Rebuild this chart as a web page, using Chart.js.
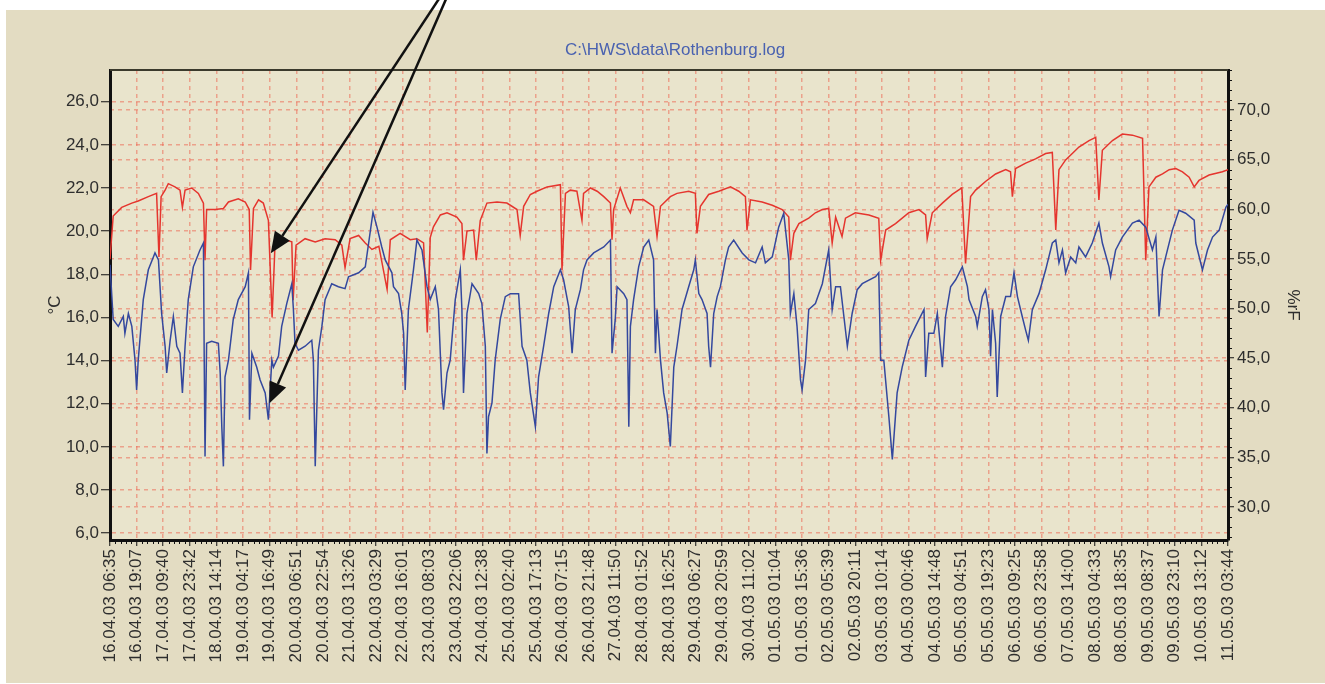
<!DOCTYPE html>
<html><head><meta charset="utf-8">
<script src="https://cdn.jsdelivr.net/npm/chart.js@4.4.1/dist/chart.umd.min.js"></script>
<style>html,body{margin:0;padding:0;background:#fff;overflow:hidden}</style>
</head><body>
<canvas id="c" width="1325" height="684"></canvas>
<script>
const timeLabels = ["16.04.03 06:35","16.04.03 19:07","17.04.03 09:40","17.04.03 23:42","18.04.03 14:14","19.04.03 04:17","19.04.03 16:49","20.04.03 06:51","20.04.03 22:54","21.04.03 13:26","22.04.03 03:29","22.04.03 16:01","23.04.03 08:03","23.04.03 22:06","24.04.03 12:38","25.04.03 02:40","25.04.03 17:13","26.04.03 07:15","26.04.03 21:48","27.04.03 11:50","28.04.03 01:52","28.04.03 16:25","29.04.03 06:27","29.04.03 20:59","30.04.03 11:02","01.05.03 01:04","01.05.03 15:36","02.05.03 05:39","02.05.03 20:11","03.05.03 10:14","04.05.03 00:46","04.05.03 14:48","05.05.03 04:51","05.05.03 19:23","06.05.03 09:25","06.05.03 23:58","07.05.03 14:00","08.05.03 04:33","08.05.03 18:35","09.05.03 08:37","09.05.03 23:10","10.05.03 13:12","11.05.03 03:44"];
const leftTicks = [6,8,10,12,14,16,18,20,22,24,26];
const rightTicks = [30,35,40,45,50,55,60,65,70];
const chartTitle = "C:\\HWS\\data\\Rothenburg.log";

// red series (°C), x in label-index units
const tempTime = [0,0.12,0.44,0.82,1.06,1.44,1.75,1.84,1.92,2.07,2.19,2.44,2.63,2.72,2.82,3.07,3.32,3.51,3.57,3.63,3.95,4.26,4.45,4.82,5.08,5.23,5.28,5.39,5.58,5.76,5.95,6.09,6.2,6.58,6.83,6.88,6.99,7.33,7.71,8.08,8.46,8.71,8.83,9.02,9.34,9.59,9.84,10.1,10.41,10.53,10.9,11.28,11.53,11.78,11.92,12.03,12.15,12.41,12.66,13.03,13.22,13.28,13.41,13.66,13.76,13.91,14.16,14.54,14.91,15.29,15.41,15.54,15.79,16.04,16.42,16.92,16.98,17.11,17.29,17.54,17.73,17.79,18.05,18.3,18.55,18.8,18.86,18.92,19.17,19.42,19.55,19.67,20.05,20.42,20.55,20.68,21.05,21.3,21.74,21.99,22.05,22.18,22.49,22.87,23.31,23.62,23.87,23.93,24.06,24.5,24.88,25.25,25.5,25.56,25.69,25.88,26.25,26.5,26.76,27.0,27.13,27.26,27.5,27.63,28.0,28.51,28.88,28.95,29.14,29.51,30.01,30.39,30.64,30.7,30.89,31.27,31.64,32.0,32.14,32.33,32.52,32.89,33.27,33.65,33.83,33.9,34.02,34.4,34.77,35.15,35.4,35.53,35.65,35.9,36.4,36.78,37.03,37.15,37.28,37.66,38.03,38.41,38.79,38.91,39.03,39.29,39.54,39.79,40.04,40.29,40.54,40.73,40.91,41.29,41.79,42];
const tempValues = [18.7,20.7,21.1,21.3,21.4,21.6,21.75,18.8,21.6,21.9,22.2,22.05,21.9,21.1,21.9,22.0,21.75,21.3,18.65,21.0,21.0,21.05,21.35,21.5,21.35,21.0,18.2,21.05,21.45,21.3,20.5,16.0,19.4,19.6,19.5,16.8,19.35,19.65,19.5,19.65,19.6,19.35,18.3,19.65,19.8,19.45,19.15,19.3,17.3,19.6,19.9,19.6,19.65,19.45,15.3,19.7,20.2,20.75,20.85,20.65,20.35,18.65,20.0,20.05,18.65,20.5,21.3,21.35,21.3,21.0,19.8,21.15,21.7,21.85,22.05,22.15,18.2,21.75,21.9,21.85,20.5,21.75,22.0,21.85,21.6,21.3,19.6,21.0,22.0,21.15,20.85,21.45,21.45,21.15,19.75,21.15,21.6,21.75,21.85,21.75,19.9,21.15,21.7,21.85,22.05,21.85,21.6,20.05,21.45,21.35,21.2,21.0,20.65,18.65,19.9,20.35,20.6,20.85,21.0,21.05,19.45,20.65,19.75,20.6,20.85,20.75,20.6,18.65,20.05,20.35,20.85,21.0,20.75,19.65,20.85,21.3,21.7,22.0,18.5,21.6,21.9,22.3,22.65,22.85,22.75,21.6,22.9,23.15,23.35,23.6,23.65,20.05,22.85,23.3,23.9,24.2,24.35,21.45,23.75,24.2,24.5,24.45,24.3,18.65,22.05,22.5,22.65,22.85,22.9,22.75,22.5,22.05,22.35,22.6,22.75,22.85];

// blue series (%rF), x in label-index units
const humTime = [0,0.12,0.31,0.5,0.56,0.69,0.82,0.94,1.0,1.06,1.25,1.44,1.63,1.69,1.82,1.94,2.07,2.13,2.26,2.38,2.51,2.63,2.72,2.82,2.94,3.13,3.38,3.51,3.54,3.57,3.63,3.82,4.07,4.14,4.2,4.26,4.32,4.45,4.63,4.82,5.08,5.2,5.24,5.33,5.51,5.64,5.83,5.95,6.08,6.14,6.33,6.45,6.64,6.83,6.89,6.95,7.08,7.33,7.58,7.64,7.71,7.83,7.96,8.08,8.33,8.58,8.83,8.96,9.34,9.59,9.88,10.03,10.21,10.34,10.59,10.65,10.84,10.96,11.03,11.09,11.21,11.4,11.53,11.72,11.91,12.03,12.22,12.34,12.47,12.53,12.66,12.78,12.97,13.16,13.22,13.28,13.41,13.6,13.85,13.97,14.1,14.16,14.22,14.35,14.47,14.66,14.85,15.04,15.35,15.48,15.66,15.79,15.98,16.1,16.29,16.48,16.67,16.92,17.04,17.23,17.36,17.48,17.67,17.79,17.92,18.17,18.55,18.8,18.86,18.98,19.05,19.3,19.42,19.49,19.55,19.67,19.86,20.05,20.24,20.42,20.49,20.55,20.68,20.8,20.93,21.05,21.18,21.3,21.49,21.74,21.93,21.99,22.12,22.24,22.43,22.49,22.56,22.68,22.81,22.93,23.12,23.24,23.43,23.75,24.0,24.25,24.5,24.62,24.88,25.12,25.31,25.5,25.56,25.69,25.81,25.94,26.0,26.13,26.25,26.5,26.76,27.0,27.13,27.26,27.44,27.57,27.7,27.88,28.07,28.26,28.76,28.88,28.95,29.07,29.26,29.39,29.57,29.76,30.01,30.26,30.58,30.64,30.76,30.95,31.08,31.27,31.39,31.58,31.77,32.02,32.21,32.27,32.52,32.58,32.77,32.89,33.02,33.08,33.15,33.27,33.33,33.46,33.65,33.83,33.96,34.09,34.27,34.4,34.5,34.65,34.9,35.15,35.4,35.53,35.65,35.78,35.9,36.09,36.28,36.4,36.65,36.9,37.15,37.28,37.53,37.59,37.78,38.03,38.41,38.66,38.91,39.16,39.29,39.41,39.54,39.66,39.91,40.16,40.41,40.73,40.79,41.04,41.23,41.42,41.67,41.92,42];
const humValues = [54.4,48.9,48.2,49.2,47.5,49.5,48.2,44.8,41.8,44.8,50.9,53.9,55.2,55.6,54.9,49.5,46.2,43.5,46.8,49.2,46.2,45.5,41.5,46.2,50.9,54.2,55.9,56.6,44.8,35.1,46.5,46.7,46.5,43.5,38.1,34.1,43.1,44.8,48.9,50.9,52.2,53.6,38.8,45.5,44.1,42.8,41.5,38.8,44.8,44.1,45.2,48.2,50.5,52.5,49.9,46.5,45.8,46.2,46.8,44.8,34.1,45.8,48.2,50.9,52.5,52.2,52.0,53.2,53.6,54.2,59.7,58.2,56.2,54.9,53.6,52.2,51.5,49.5,47.5,41.8,49.9,53.9,56.9,55.9,52.2,50.9,52.2,49.9,41.5,39.8,43.5,44.8,50.9,53.9,49.9,41.5,49.5,52.5,51.5,50.5,46.2,35.4,39.1,40.5,44.8,48.9,51.2,51.5,51.5,46.2,44.8,41.5,38.1,43.1,46.2,49.5,52.2,53.9,52.9,50.2,45.5,49.9,51.9,53.9,54.9,55.6,56.2,56.9,45.5,48.9,52.2,51.5,50.9,38.1,48.2,50.9,54.2,56.2,56.9,54.9,45.5,49.9,44.8,41.5,39.5,36.1,44.1,46.2,49.9,52.2,53.9,54.9,51.5,50.9,49.5,46.2,44.1,49.5,51.2,52.2,54.9,56.2,56.9,55.6,54.9,54.6,56.2,54.6,55.2,58.2,59.6,54.9,49.5,51.5,48.2,42.8,41.8,44.8,49.9,50.5,52.5,55.9,49.9,52.2,52.2,49.2,46.2,49.5,51.9,52.5,53.2,53.6,44.8,44.8,39.1,34.8,41.5,44.1,46.8,48.2,49.9,43.1,47.5,47.5,49.5,44.1,49.2,52.2,52.9,54.2,52.2,50.9,49.2,48.2,51.2,51.9,49.9,45.2,49.9,46.5,41.1,49.2,51.2,51.2,53.6,51.2,49.2,47.8,46.8,49.9,51.5,53.9,56.6,56.9,54.6,55.9,53.6,55.2,54.6,56.2,55.2,56.6,58.6,56.6,54.2,53.2,55.9,57.2,58.6,58.9,58.2,55.9,57.2,49.2,53.9,55.2,57.9,59.9,59.6,58.9,56.6,53.9,55.9,57.2,57.9,60.2,60.5];

// annotation arrows (start -> tip), in x-index / °C units
const arrowStarts = [{x:12.59, y:31.2},{x:12.78, y:31.2}];
const arrowTips = [{x:6.04, y:18.97},{x:5.99, y:12.02}];

const FONT = "'Liberation Sans', Arial, sans-serif";
const gridColor = 'rgba(236,105,85,0.55)';
const fmt = v => Number(v).toFixed(1).replace('.', ',');

const decor = {
  id: 'decor',
  beforeDraw(chart) {
    const {ctx, chartArea: a} = chart;
    ctx.save();
    ctx.fillStyle = '#ffffff';
    ctx.fillRect(0, 0, chart.width, chart.height);
    ctx.fillStyle = '#e3dcc2';
    ctx.fillRect(6, 10, chart.width - 6, chart.height - 11);
    ctx.fillStyle = '#e9e4cc';
    ctx.fillRect(a.left, a.top, a.right - a.left, a.bottom - a.top);
    ctx.restore();
  },
  afterDraw(chart) {
    const {ctx, chartArea: a, scales} = chart;
    ctx.save();
    // top frame line
    ctx.strokeStyle = '#3b3a2c';
    ctx.lineWidth = 2;
    ctx.beginPath(); ctx.moveTo(a.left, a.top); ctx.lineTo(a.right, a.top); ctx.stroke();
    // minor ticks
    ctx.strokeStyle = '#111';
    ctx.lineWidth = 1;
    const y1 = scales.y1;
    ctx.beginPath();
    for (let v = Math.ceil(y1.min); v <= Math.floor(y1.max); v++) {
      if (v % 5 === 0) continue;
      const py = Math.round(y1.getPixelForValue(v)) + 0.5;
      ctx.moveTo(a.right, py); ctx.lineTo(a.right + 4, py);
    }
    const xs = scales.x;
    for (let i = 0; i < timeLabels.length - 1; i++) {
      for (let k = 1; k < 5; k++) {
        const px = Math.round(xs.getPixelForValue(i + k / 5)) + 0.5;
        ctx.moveTo(px, a.bottom); ctx.lineTo(px, a.bottom + 4);
      }
    }
    ctx.stroke();
    // arrows
    const ys = scales.y;
    ctx.strokeStyle = '#111';
    ctx.fillStyle = '#111';
    ctx.lineWidth = 2.5;
    arrowStarts.forEach((s, i) => {
      const t = arrowTips[i];
      const x0 = xs.getPixelForValue(s.x), y0 = ys.getPixelForValue(s.y);
      const x1 = xs.getPixelForValue(t.x), y1p = ys.getPixelForValue(t.y);
      const ang = Math.atan2(y1p - y0, x1 - x0);
      const hl = 21, hw = 9;
      const bx = x1 - hl * Math.cos(ang), by = y1p - hl * Math.sin(ang);
      ctx.beginPath(); ctx.moveTo(x0, y0); ctx.lineTo(bx, by); ctx.stroke();
      ctx.beginPath();
      ctx.moveTo(x1, y1p);
      ctx.lineTo(bx + hw * Math.sin(ang), by - hw * Math.cos(ang));
      ctx.lineTo(bx - hw * Math.sin(ang), by + hw * Math.cos(ang));
      ctx.closePath(); ctx.fill();
    });
    ctx.restore();
  }
};

new Chart(document.getElementById('c'), {
  type: 'line',
  data: {
    datasets: [
      { label: '%rF', yAxisID: 'y1',
        data: humTime.map((x, i) => ({x, y: humValues[i]})),
        borderColor: '#34489e', borderWidth: 1.5, pointRadius: 0, tension: 0, fill: false },
      { label: '°C', yAxisID: 'y',
        data: tempTime.map((x, i) => ({x, y: tempValues[i]})),
        borderColor: '#e5352e', borderWidth: 1.5, pointRadius: 0, tension: 0, fill: false }
    ]
  },
  options: {
    responsive: false, animation: false, devicePixelRatio: 1, events: [],
    layout: { padding: { left: 40, right: 15, top: 10, bottom: 4 } },
    plugins: {
      legend: { display: false }, tooltip: { enabled: false },
      title: { display: true, text: chartTitle, color: '#4a62b0',
        font: { family: FONT, size: 17, weight: 'normal' }, padding: { top: 30, bottom: 9.6 } }
    },
    scales: {
      x: {
        type: 'linear', min: 0, max: timeLabels.length - 1, bounds: 'data',
        afterBuildTicks: s => { s.ticks = timeLabels.map((_, i) => ({value: i})); },
        afterFit: s => { s.height = 140; },
        ticks: { autoSkip: false, maxRotation: 90, minRotation: 90, padding: 3, color: '#2e2e2e',
          font: { family: FONT, size: 17 }, callback: (v, i) => timeLabels[i] },
        grid: { color: gridColor, lineWidth: 1.5, tickLength: 6, tickColor: '#111', tickWidth: 1, tickBorderDash: [] },
        border: { display: true, color: '#111', width: 3, dash: [4, 4] }
      },
      y: {
        type: 'linear', position: 'left', min: 5.68, max: 27.47, bounds: 'data',
        afterBuildTicks: s => { s.ticks = leftTicks.map(v => ({value: v})); },
        afterFit: s => { s.width = 70; },
        ticks: { padding: 2, color: '#2e2e2e', font: { family: FONT, size: 17 }, callback: v => fmt(v) },
        grid: { color: gridColor, lineWidth: 1.5, tickLength: 9, tickColor: '#111', tickWidth: 1, tickBorderDash: [] },
        border: { display: true, color: '#111', width: 3, dash: [4, 4] },
        title: { display: true, text: '°C', color: '#2e2e2e', font: { family: FONT, size: 17 }, padding: { top: 5, bottom: 0 } }
      },
      y1: {
        type: 'linear', position: 'right', min: 26.68, max: 74.03, bounds: 'data',
        afterBuildTicks: s => { s.ticks = rightTicks.map(v => ({value: v})); },
        afterFit: s => { s.width = 82; },
        ticks: { padding: 3, color: '#2e2e2e', font: { family: FONT, size: 17 }, callback: v => fmt(v) },
        grid: { color: gridColor, lineWidth: 1.5, tickLength: 6, tickColor: '#111', tickWidth: 1, tickBorderDash: [] },
        border: { display: true, color: '#111', width: 3, dash: [4, 4] },
        title: { display: true, text: '%rF', color: '#2e2e2e', font: { family: FONT, size: 17 }, padding: { top: 7, bottom: 0 } }
      }
    }
  },
  plugins: [decor]
});
</script>
</body></html>
